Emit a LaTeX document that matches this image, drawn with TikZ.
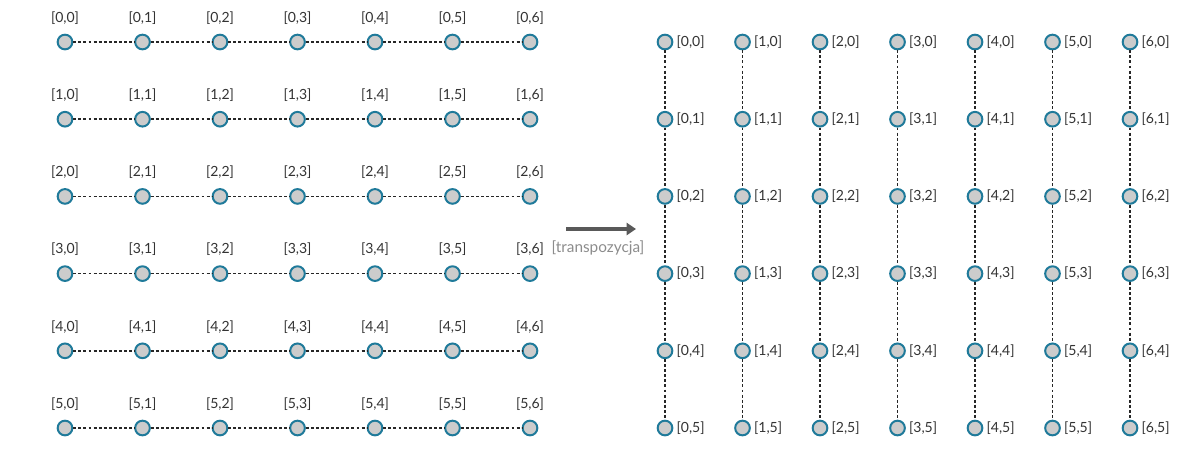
\documentclass[tikz,border=0pt]{standalone}
\usepackage{fontspec}
\setmainfont{Lato}
\usetikzlibrary{arrows.meta}
\definecolor{ring}{HTML}{1F7A9A}
\definecolor{dotfill}{HTML}{CCCCCC}
\tikzset{
 pt/.style={circle,draw=ring,fill=dotfill,line width=1.5pt,minimum size=11pt,inner sep=0pt},
 lnk/.style={line width=1.3pt,dash pattern=on 2.2pt off 1.6pt,draw=black!85},
 lbl/.style={font=\fontsize{10.5}{12}\selectfont,text=black!80,inner sep=1pt}
}
\begin{document}
\begin{tikzpicture}[x=0.75pt,y=-0.75pt]
\useasboundingbox (0,0) rectangle (1200,462);
\foreach \r in {0,...,5}{
 \foreach \c in {0,...,6}{
  \pgfmathsetmacro{\xx}{65+77.5*\c}
  \pgfmathsetmacro{\yy}{42+77.2*\r}
  \node[pt] (L\r\c) at (\xx,\yy) {};
  \node[lbl] (LL\r\c) at (\xx,\yy-24) {[\r,\c]};
 }
 \foreach \c [evaluate=\c as \n using int(\c+1)] in {0,...,5}{
  \draw[lnk] (L\r\c) -- (L\r\n);
 }
}
\foreach \c in {0,...,6}{
 \foreach \r in {0,...,5}{
  \pgfmathsetmacro{\xx}{665+77.5*\c}
  \pgfmathsetmacro{\yy}{42+77.2*\r}
  \node[pt] (R\c\r) at (\xx,\yy) {};
  \node[lbl,anchor=west] (RL\c\r) at (\xx+10,\yy) {[\c,\r]};
 }
 \foreach \r [evaluate=\r as \n using int(\r+1)] in {0,...,4}{
  \draw[lnk] (R\c\r) -- (R\c\n);
 }
}
\coordinate (a1) at (566,229);
\coordinate (a2) at (636,229);
\draw[line width=3.5pt,draw=black!65,-{Triangle[length=7pt,width=9pt]}] (a1) -- (a2);
\node[lbl,text=black!45,font=\fontsize{11.5}{13}\selectfont] (tr) at (598,248) {[transpozycja]};
\end{tikzpicture}
\end{document}
